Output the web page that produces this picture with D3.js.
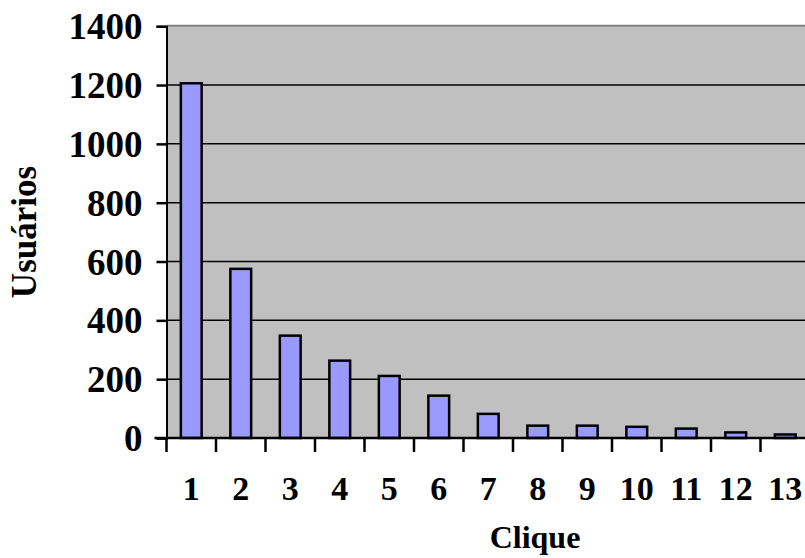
<!DOCTYPE html>
<html>
<head>
<meta charset="utf-8">
<script src="https://cdn.jsdelivr.net/npm/d3@7"></script>
<style>
  html, body { margin: 0; padding: 0; background: #ffffff; overflow: hidden; }
  svg { display: block; }
  text { font-family: "Liberation Serif", "Times New Roman", serif; font-weight: bold; fill: #000; }
</style>
</head>
<body>
<svg id="chart" width="805" height="558"></svg>
<script>
// Clicks per user: number of users for each click count
const clicks = ["1", "2", "3", "4", "5", "6", "7", "8", "9", "10", "11", "12", "13"];
const users = [1206, 575, 348, 263, 211, 144, 82, 42, 42, 38, 32, 19, 12];
const yTicks = [0, 200, 400, 600, 800, 1000, 1200, 1400];

const svg = d3.select("#chart");
const plotLeft = 166.5, plotRight = 810, plotTop = 26.2, plotBottom = 438;

const x = d3.scaleBand().domain(clicks).range([plotLeft, plotRight]).padding(0);
const xBar = d3.scaleBand().domain(clicks).range([plotLeft, plotRight])
  .paddingInner(0.58).paddingOuter(0.29);
const y = d3.scaleLinear().domain([0, 1400]).range([plotBottom, plotTop]);

// plot background
svg.append("rect")
  .attr("x", plotLeft).attr("y", plotTop)
  .attr("width", plotRight - plotLeft).attr("height", plotBottom - plotTop)
  .attr("fill", "#c0c0c0");

// top border of plot area
svg.append("line")
  .attr("x1", plotLeft).attr("x2", plotRight)
  .attr("y1", plotTop - 0.5).attr("y2", plotTop - 0.5)
  .attr("stroke", "#808080").attr("stroke-width", 2);

// horizontal gridlines
svg.append("g")
  .selectAll("line")
  .data(yTicks.filter(d => d > 0 && d < 1400))
  .join("line")
  .attr("x1", plotLeft).attr("x2", plotRight)
  .attr("y1", d => y(d)).attr("y2", d => y(d))
  .attr("stroke", "#000").attr("stroke-width", 1.5);

// bars
svg.append("g")
  .selectAll("rect")
  .data(clicks.map((c, i) => ({ c, v: users[i] })))
  .join("rect")
  .attr("x", d => xBar(d.c))
  .attr("width", xBar.bandwidth())
  .attr("y", d => y(d.v))
  .attr("height", d => y(0) - y(d.v))
  .attr("fill", "#9999ff")
  .attr("stroke", "#000")
  .attr("stroke-width", 2.5);

// y axis
const yAxis = d3.axisLeft(y).tickValues(yTicks).tickFormat(d3.format("d"))
  .tickSize(10).tickPadding(14);
const gy = svg.append("g").attr("transform", `translate(${plotLeft},0)`).call(yAxis);
gy.select(".domain").attr("stroke", "#000").attr("stroke-width", 2);
gy.selectAll(".tick line").attr("stroke", "#000").attr("stroke-width", 2.5);
gy.selectAll(".tick text")
  .style("font-family", '"Liberation Serif", serif')
  .style("font-weight", "bold")
  .style("font-size", "37px")
  .attr("dy", "0.34em")
  .attr("fill", "#000");

// x axis: ticks at category boundaries, labels at category centres
const gx = svg.append("g").attr("transform", `translate(0,${plotBottom})`);
gx.append("line")
  .attr("x1", plotLeft - 12).attr("x2", plotRight)
  .attr("y1", 0).attr("y2", 0)
  .attr("stroke", "#000").attr("stroke-width", 2.5);
gx.selectAll("line.tick")
  .data(clicks)
  .join("line")
  .attr("class", "tick")
  .attr("x1", d => x(d)).attr("x2", d => x(d))
  .attr("y1", 0).attr("y2", 14)
  .attr("stroke", "#000").attr("stroke-width", 2.5);
gx.selectAll("text.lbl")
  .data(clicks)
  .join("text")
  .attr("class", "lbl")
  .attr("x", d => x(d) + x.bandwidth() / 2)
  .attr("y", 62)
  .attr("text-anchor", "middle")
  .style("font-size", "34px")
  .text(d => d);

// axis titles
svg.append("text")
  .attr("x", 535).attr("y", 548)
  .attr("text-anchor", "middle")
  .style("font-size", "32px")
  .text("Clique");

svg.append("text")
  .attr("transform", "translate(36,232) rotate(-90)")
  .attr("text-anchor", "middle")
  .style("font-size", "35px")
  .text("Usuários");
</script>
</body>
</html>
